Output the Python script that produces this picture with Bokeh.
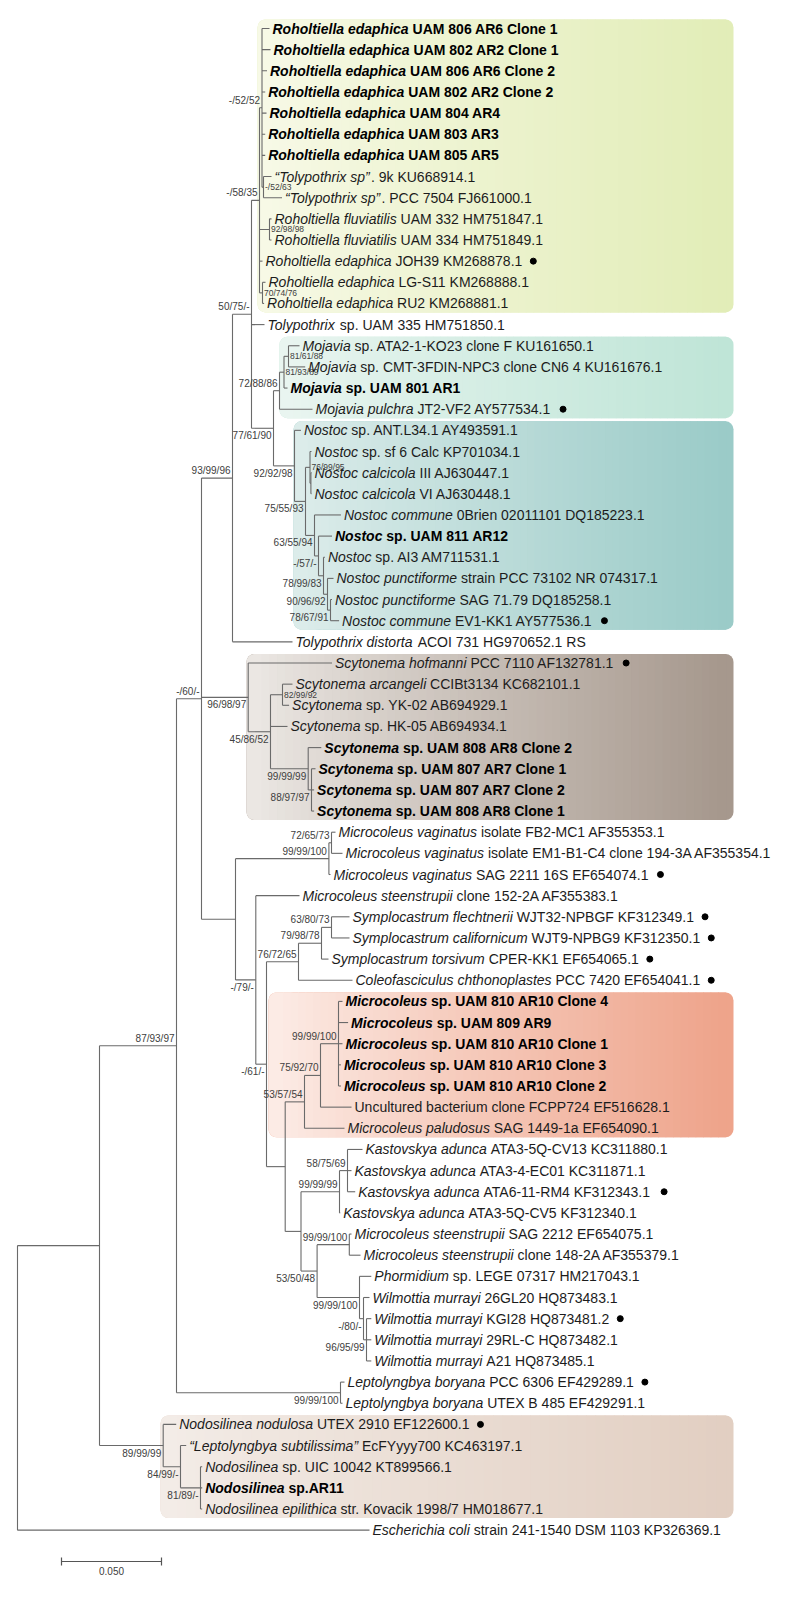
import numpy as np
from bokeh.plotting import figure
from bokeh.models import Range1d, BoxAnnotation
from bokeh.core.properties import value
from bokeh.embed import file_html
from bokeh.resources import INLINE

# ---------------- data: leaves (top to bottom) ----------------
leaf_italic = (["Roholtiella edaphica"] * 7 +
    ["\u201cTolypothrix sp\u201d", "\u201cTolypothrix sp\u201d",
     "Roholtiella fluviatilis", "Roholtiella fluviatilis",
     "Roholtiella edaphica", "Roholtiella edaphica", "Roholtiella edaphica",
     "Tolypothrix",
     "Mojavia", "Mojavia", "Mojavia", "Mojavia pulchra",
     "Nostoc", "Nostoc", "Nostoc calcicola", "Nostoc calcicola", "Nostoc commune",
     "Nostoc", "Nostoc", "Nostoc punctiforme", "Nostoc punctiforme", "Nostoc commune",
     "Tolypothrix distorta",
     "Scytonema hofmanni", "Scytonema arcangeli", "Scytonema", "Scytonema",
     "Scytonema", "Scytonema", "Scytonema", "Scytonema",
     "Microcoleus vaginatus", "Microcoleus vaginatus", "Microcoleus vaginatus",
     "Microcoleus steenstrupii",
     "Symplocastrum flechtnerii", "Symplocastrum californicum", "Symplocastrum torsivum",
     "Coleofasciculus chthonoplastes",
     "Microcoleus", "Microcoleus", "Microcoleus", "Microcoleus", "Microcoleus", "",
     "Microcoleus paludosus",
     "Kastovskya adunca", "Kastovskya adunca", "Kastovskya adunca", "Kastovskya adunca",
     "Microcoleus steenstrupii", "Microcoleus steenstrupii", "Phormidium",
     "Wilmottia murrayi", "Wilmottia murrayi", "Wilmottia murrayi", "Wilmottia murrayi",
     "Leptolyngbya boryana", "Leptolyngbya boryana", "Nodosilinea nodulosa",
     "\u201cLeptolyngbya subtilissima\u201d", "Nodosilinea", "Nodosilinea",
     "Nodosilinea epilithica", "Escherichia coli"])
leaf_rest = [
    " UAM 806 AR6 Clone 1", " UAM 802 AR2 Clone 1", " UAM 806 AR6 Clone 2", " UAM 802 AR2 Clone 2",
    " UAM 804 AR4", " UAM 803 AR3", " UAM 805 AR5",
    ". 9k KU668914.1", ". PCC 7504 FJ661000.1",
    " UAM 332 HM751847.1", " UAM 334 HM751849.1",
    " JOH39 KM268878.1", " LG-S11 KM268888.1", " RU2 KM268881.1",
    " sp. UAM 335 HM751850.1",
    " sp. ATA2-1-KO23 clone F KU161650.1", " sp. CMT-3FDIN-NPC3 clone CN6 4 KU161676.1",
    " sp. UAM 801 AR1", " JT2-VF2 AY577534.1",
    " sp. ANT.L34.1 AY493591.1", " sp. sf 6 Calc KP701034.1", " III AJ630447.1", " VI AJ630448.1",
    " 0Brien 02011101 DQ185223.1", " sp. UAM 811 AR12", " sp. AI3 AM711531.1",
    " strain PCC 73102 NR 074317.1", " SAG 71.79 DQ185258.1", " EV1-KK1 AY577536.1",
    " ACOI 731 HG970652.1 RS",
    " PCC 7110 AF132781.1", " CCIBt3134 KC682101.1", " sp. YK-02 AB694929.1", " sp. HK-05 AB694934.1",
    " sp. UAM 808 AR8 Clone 2", " sp. UAM 807 AR7 Clone 1", " sp. UAM 807 AR7 Clone 2",
    " sp. UAM 808 AR8 Clone 1",
    " isolate FB2-MC1 AF355353.1", " isolate EM1-B1-C4 clone 194-3A AF355354.1",
    " SAG 2211 16S EF654074.1", " clone 152-2A AF355383.1",
    " WJT32-NPBGF KF312349.1", " WJT9-NPBG9 KF312350.1", " CPER-KK1 EF654065.1",
    " PCC 7420 EF654041.1",
    " sp. UAM 810 AR10 Clone 4", " sp. UAM 809 AR9", " sp. UAM 810 AR10 Clone 1",
    " sp. UAM 810 AR10 Clone 3", " sp. UAM 810 AR10 Clone 2",
    "Uncultured bacterium clone FCPP724 EF516628.1", " SAG 1449-1a EF654090.1",
    " ATA3-5Q-CV13 KC311880.1", " ATA3-4-EC01 KC311871.1", " ATA6-11-RM4 KF312343.1",
    " ATA3-5Q-CV5 KF312340.1",
    " SAG 2212 EF654075.1", " clone 148-2A AF355379.1", " sp. LEGE 07317 HM217043.1",
    " 26GL20 HQ873483.1", " KGI28 HQ873481.2", " 29RL-C HQ873482.1", " A21 HQ873485.1",
    " PCC 6306 EF429289.1", " UTEX B 485 EF429291.1", " UTEX 2910 EF122600.1",
    " EcFYyyy700 KC463197.1", " sp. UIC 10042 KT899566.1", " sp.AR11",
    " str. Kovacik 1998/7 HM018677.1", " strain 241-1540 DSM 1103 KP326369.1"]
bold_leaves = [1, 2, 3, 4, 5, 6, 7, 18, 25, 35, 36, 37, 38, 47, 48, 49, 50, 51, 70]
type_strain_leaves = [12, 19, 29, 31, 41, 43, 44, 45, 46, 56, 62, 65, 67]

leaf_parent = (["E"] * 7 + ["F"] * 2 + ["G"] * 2 + ["C"] + ["H"] * 2 + ["B"] +
    ["MOJ3"] * 2 + ["MOJ2", "MOJ", "NOS", "NOS3"] + ["NOS3b"] * 2 +
    ["NOS4", "X1", "X2", "X3"] + ["X4"] * 2 + ["A", "SCY"] + ["SCY3"] * 2 +
    ["SCY2", "SCY4"] + ["SCY5"] * 3 + ["MV2"] * 2 + ["MV", "M2"] + ["SYM3"] * 2 +
    ["SYM2", "SYM"] + ["MIC2"] * 5 + ["MIC", "M4"] + ["KA2"] * 3 + ["KA"] +
    ["MS"] * 2 + ["PW", "PW2"] + ["PW3"] * 3 + ["LEPTO"] * 2 + ["NODO", "NODO2"] +
    ["NODO3"] * 3 + ["R"])
# distance from root (substitutions per site)
leaf_depth = [0.1260, 0.1265, 0.12475, 0.12385, 0.1245, 0.12385, 0.12385,
    0.1270, 0.13225, 0.1270, 0.1270, 0.1225, 0.1240, 0.1233, 0.1235,
    0.1410, 0.14385, 0.1350, 0.1475,
    0.1417, 0.1470, 0.1470, 0.1470, 0.1617, 0.15725, 0.1537, 0.1580, 0.15725, 0.1608,
    0.1375,
    0.15725, 0.1375, 0.1358, 0.1350, 0.1519, 0.1490, 0.1483, 0.1483,
    0.1590, 0.1625, 0.1565, 0.1410,
    0.1660, 0.1660, 0.1555, 0.1675,
    0.1625, 0.1653, 0.1625, 0.1617, 0.1617, 0.1670, 0.1635,
    0.1725, 0.1670, 0.16885, 0.16135, 0.1670, 0.1715,
    0.1769, 0.1760, 0.1769, 0.1769, 0.1769,
    0.1635, 0.1625, 0.07935, 0.08435, 0.09235, 0.09235, 0.09235, 0.1760]

# ---------------- data: internal nodes ----------------
node_names = ["R", "N1", "N2", "N3", "A", "B", "C", "E", "F", "G", "H", "D", "MOJ", "MOJ2", "MOJ3",
    "NOS", "NOS2", "NOS3", "NOS3b", "NOS4", "X1", "X2", "X3", "X4",
    "SCY", "SCY2", "SCY3", "SCY4", "SCY5", "M1", "MV", "MV2", "M2", "M3",
    "SYM", "SYM2", "SYM3", "M5", "M4", "MIC", "MIC2", "KM", "KA", "KA2",
    "W", "MS", "PW", "PW2", "PW3", "LEPTO", "NODO", "NODO2", "NODO3"]
node_parent = [None, "R", "N1", "N2", "N3", "A", "B", "C", "E", "C", "C", "B", "D", "MOJ", "MOJ2",
    "D", "NOS", "NOS2", "NOS3", "NOS2", "NOS4", "X1", "X2", "X3",
    "N3", "SCY", "SCY2", "SCY2", "SCY4", "N3", "M1", "MV", "M1", "M2",
    "M3", "SYM", "SYM2", "M3", "M5", "M4", "MIC", "M5", "KM", "KA",
    "KM", "W", "W", "PW", "PW2", "N2", "N1", "NODO", "NODO2"]
node_depth = [0.0, 0.0410, 0.0795, 0.0920, 0.1075, 0.1170, 0.1210, 0.12225, 0.1230, 0.1260,
    0.1225, 0.1280, 0.1310, 0.13325, 0.1355,
    0.1385, 0.1440, 0.14625, 0.1467, 0.1485, 0.1505, 0.1530, 0.1550, 0.1565,
    0.11535, 0.1265, 0.1325, 0.14535, 0.1470, 0.1090, 0.1557, 0.1570, 0.11915, 0.1245,
    0.1405, 0.1520, 0.1570, 0.13385, 0.1435, 0.1515, 0.1605, 0.14175, 0.1610, 0.1650,
    0.1498, 0.1659, 0.1710, 0.1730, 0.1745, 0.1615, 0.07285, 0.0815, 0.0915]
node_support = ["", "", "87/93/97", "-/60/-", "93/99/96", "50/75/-", "-/58/35", "-/52/52",
    "-/52/63", "92/98/98", "70/74/76", "77/61/90", "72/88/86", "81/93/89", "81/61/88",
    "92/92/98", "75/55/93", "76/99/95", "", "63/55/94", "-/57/-", "78/99/83", "90/96/92",
    "78/67/91", "96/98/97", "45/86/52", "82/99/92", "99/99/99", "88/97/97", "",
    "99/99/100", "72/65/73", "-/79/-", "-/61/-", "76/72/65", "79/98/78", "63/80/73", "",
    "53/57/54", "75/92/70", "99/99/100", "", "99/99/99", "58/75/69", "53/50/48",
    "99/99/100", "99/99/100", "-/80/-", "96/95/99", "99/99/100", "89/99/99", "84/99/-",
    "81/89/-"]
scale_bar_length = 0.050
scale_bar_label = "0.050"

# ---------------- layout / style ----------------
PX = 2000.0          # screen px per unit
X0 = 25.0            # page x of root
ROW0, ROW = 36.0, 21.15
FS = 14
FONT = value("Liberation Sans")
W, H = 784, 1589
small_label_nodes = {"F", "G", "H", "MOJ2", "MOJ3", "NOS3", "SCY3"}
BOX_RIGHT = 0.358
# (first leaf, last leaf, left, left colour, right colour)
boxes = [(1, 14, 0.1200, "#f7f9e6", "#e2edb8"),
         (16, 19, 0.1310, "#e9f5f0", "#bfe5d7"),
         (20, 29, 0.1380, "#dcecea", "#9bcbc8"),
         (31, 38, 0.1145, "#ebe7e3", "#a6988d"),
         (47, 53, 0.1255, "#fcebe5", "#eea48b"),
         (67, 71, 0.0715, "#f3ece7", "#e2cfc2")]

REG, BOLD = {}, {}
for chars, w in [("'", 191), ("ijl", 222), (" !,./:;Ift[]", 278), ("-()r`\u201c\u201d", 333),
                 ('"', 355), ("*", 389), ("Jckszvxy", 500), ("0123456789abdeghnopquL_?$#", 556),
                 ("+<=>~", 584), ("FTZ", 611), ("ABEKPSVXY&", 667), ("CDHNRUw", 722),
                 ("GOQ", 778), ("Mm", 833), ("%", 889), ("W", 944)]:
    for ch in chars:
        REG[ch] = w
for chars, w in [("'", 238), (" ,./Iijl[]", 278), ("!:;-()ft`", 333), ("r*", 389), ('"', 474),
                 ("z\u201c\u201d", 500), ("0123456789aceksvxyJ?_$#", 556), ("+<=>~", 584),
                 ("bdghnopquLFTZ", 611), ("EPSVXY", 667), ("ABCDHKNRU&", 722), ("GOQw", 778),
                 ("M", 833), ("m%", 889), ("W", 944)]:
    for ch in chars:
        BOLD[ch] = w


def text_w(s, bold):
    tab = BOLD if bold else REG
    return sum(tab.get(c, 556) for c in s) * FS / 1000.0


def mix(c0, c1, t):
    a = [int(c0[i:i + 2], 16) for i in (1, 3, 5)]
    b = [int(c1[i:i + 2], 16) for i in (1, 3, 5)]
    return "#%02x%02x%02x" % tuple(int(round(a[k] + (b[k] - a[k]) * t)) for k in range(3))


n_leaf = len(leaf_italic)
leaf_y = [ROW0 + i * ROW for i in range(n_leaf)]
depth = dict(zip(node_names, node_depth))
parent = dict(zip(node_names, node_parent))
support = dict(zip(node_names, node_support))
children = {n: [] for n in node_names}
for i, par in enumerate(leaf_parent):
    children[par].append(("L", i))
for n, par in zip(node_names, node_parent):
    if par is not None:
        children[par].append(("N", n))

node_y = {}


def get_y(kind, ident):
    if kind == "L":
        return leaf_y[ident]
    if ident not in node_y:
        ys = [get_y(k, c) for k, c in children[ident]]
        node_y[ident] = (min(ys) + max(ys)) / 2.0
    return node_y[ident]


get_y("N", "R")

p = figure(width=W, height=H, output_backend="svg", toolbar_location=None,
           x_range=Range1d((8 - X0) / PX, (8 + W - X0) / PX), y_range=Range1d(8 + H, 8),
           min_border=0, outline_line_color=None, x_axis_location=None, y_axis_location=None,
           background_fill_color="white", border_fill_color="white")
p.grid.visible = False

# ---- highlight boxes (horizontal gradient) ----
PAD = 9
NS = 60
ql, qr, qt, qb, qc = [], [], [], [], []
for f, l, left, c0, c1 in boxes:
    top = leaf_y[f - 1] - PAD
    bot = leaf_y[l - 1] + PAD
    p.add_layout(BoxAnnotation(left=left, right=BOX_RIGHT, top=top, bottom=bot, fill_color=c1,
                               fill_alpha=1, line_color=None, border_radius=8, level="underlay"))
    p.add_layout(BoxAnnotation(left=left, right=left + 30 / PX, top=top, bottom=bot, fill_color=c0,
                               fill_alpha=1, line_color=None, border_radius=8, level="underlay"))
    edges = np.linspace(left + 7 / PX, BOX_RIGHT - 8 / PX, NS + 1)
    for k in range(NS):
        ql.append(edges[k]); qr.append(edges[k + 1] + 0.8 / PX)
        qt.append(top); qb.append(bot)
        qc.append(mix(c0, c1, (k / (NS - 1)) ** 0.9))
p.quad(left=ql, right=qr, top=qt, bottom=qb, fill_color=qc, line_color=None)

# ---- tree branches ----
x0s, y0s, x1s, y1s = [], [], [], []
for i, par in enumerate(leaf_parent):
    x0s.append(depth[par]); x1s.append(leaf_depth[i]); y0s.append(leaf_y[i]); y1s.append(leaf_y[i])
for n in node_names:
    ys = [get_y(k, c) for k, c in children[n]]
    x0s.append(depth[n]); x1s.append(depth[n]); y0s.append(min(ys)); y1s.append(max(ys))
    if parent[n] is not None:
        x0s.append(depth[parent[n]]); x1s.append(depth[n]); y0s.append(node_y[n]); y1s.append(node_y[n])
p.segment(x0=x0s, y0=y0s, x1=x1s, y1=y1s, line_color="#6a6a6a", line_width=1.1)

# ---- support values ----
grp = {"above": ([], [], []), "below": ([], [], []), "small": ([], [], [])}
for n in node_names:
    s = support[n]
    if not s:
        continue
    if n in small_label_nodes:
        g = grp["small"]; g[0].append(depth[n] + 1.5 / PX); g[1].append(node_y[n]); g[2].append(s)
        continue
    sib = [get_y(k, c) for k, c in children[parent[n]]]
    if node_y[n] <= min(sib):
        g = grp["above"]; g[0].append(depth[n] - 2 / PX); g[1].append(node_y[n] - 2); g[2].append(s)
    else:
        g = grp["below"]; g[0].append(depth[n] - 2 / PX); g[1].append(node_y[n] + 2); g[2].append(s)
for key, align, base, size in [("above", "right", "bottom", "10px"), ("below", "right", "top", "10px"),
                               ("small", "left", "middle", "8.5px")]:
    xs, ys, ts = grp[key]
    p.text(x=xs, y=ys, text=ts, text_font=FONT, text_font_size=size, text_color="#404040",
           text_align=align, text_baseline=base)

# ---- leaf labels (italic name + plain remainder, leading spaces turned into offsets) ----
parts = {("italic", False): ([], [], []), ("normal", False): ([], [], []),
         ("italic", True): ([], [], []), ("normal", True): ([], [], [])}
dots_x, dots_y = [], []
for i in range(n_leaf):
    b = (i + 1) in bold_leaves
    xt = leaf_depth[i] + 3 / PX
    wi = text_w(leaf_italic[i], b)
    rest = leaf_rest[i]
    stripped = rest.lstrip(" ")
    lead = text_w(rest[:len(rest) - len(stripped)], b)
    wr = text_w(stripped, b)
    if leaf_italic[i]:
        g = parts[("italic", b)]; g[0].append(xt); g[1].append(leaf_y[i]); g[2].append(leaf_italic[i])
    g = parts[("normal", b)]; g[0].append(xt + (wi + lead) / PX); g[1].append(leaf_y[i]); g[2].append(stripped)
    if (i + 1) in type_strain_leaves:
        dots_x.append(xt + (wi + lead + wr + 11) / PX); dots_y.append(leaf_y[i])
for (style, b), (xs, ys, ts) in parts.items():
    fs = ("bold italic" if style == "italic" else "bold") if b else style
    p.text(x=xs, y=ys, text=ts, text_font=FONT, text_font_size=f"{FS}px", text_font_style=fs,
           text_color="#000000" if b else "#1c1c1c", text_align="left", text_baseline="middle")
p.scatter(x=dots_x, y=dots_y, size=6, color="black")

# ---- scale bar ----
sb_x0 = (69 - X0) / PX
sb_y = 1569
p.segment(x0=[sb_x0, sb_x0, sb_x0 + scale_bar_length], y0=[sb_y, sb_y - 4, sb_y - 4],
          x1=[sb_x0 + scale_bar_length, sb_x0, sb_x0 + scale_bar_length], y1=[sb_y, sb_y + 4, sb_y + 4],
          line_color="#555555", line_width=1.2)
p.text(x=[sb_x0 + scale_bar_length / 2], y=[sb_y + 9], text=[scale_bar_label], text_font=FONT,
       text_font_size="10px", text_color="#404040", text_align="center", text_baseline="middle")

open("out.html", "w").write(file_html(p, INLINE))
